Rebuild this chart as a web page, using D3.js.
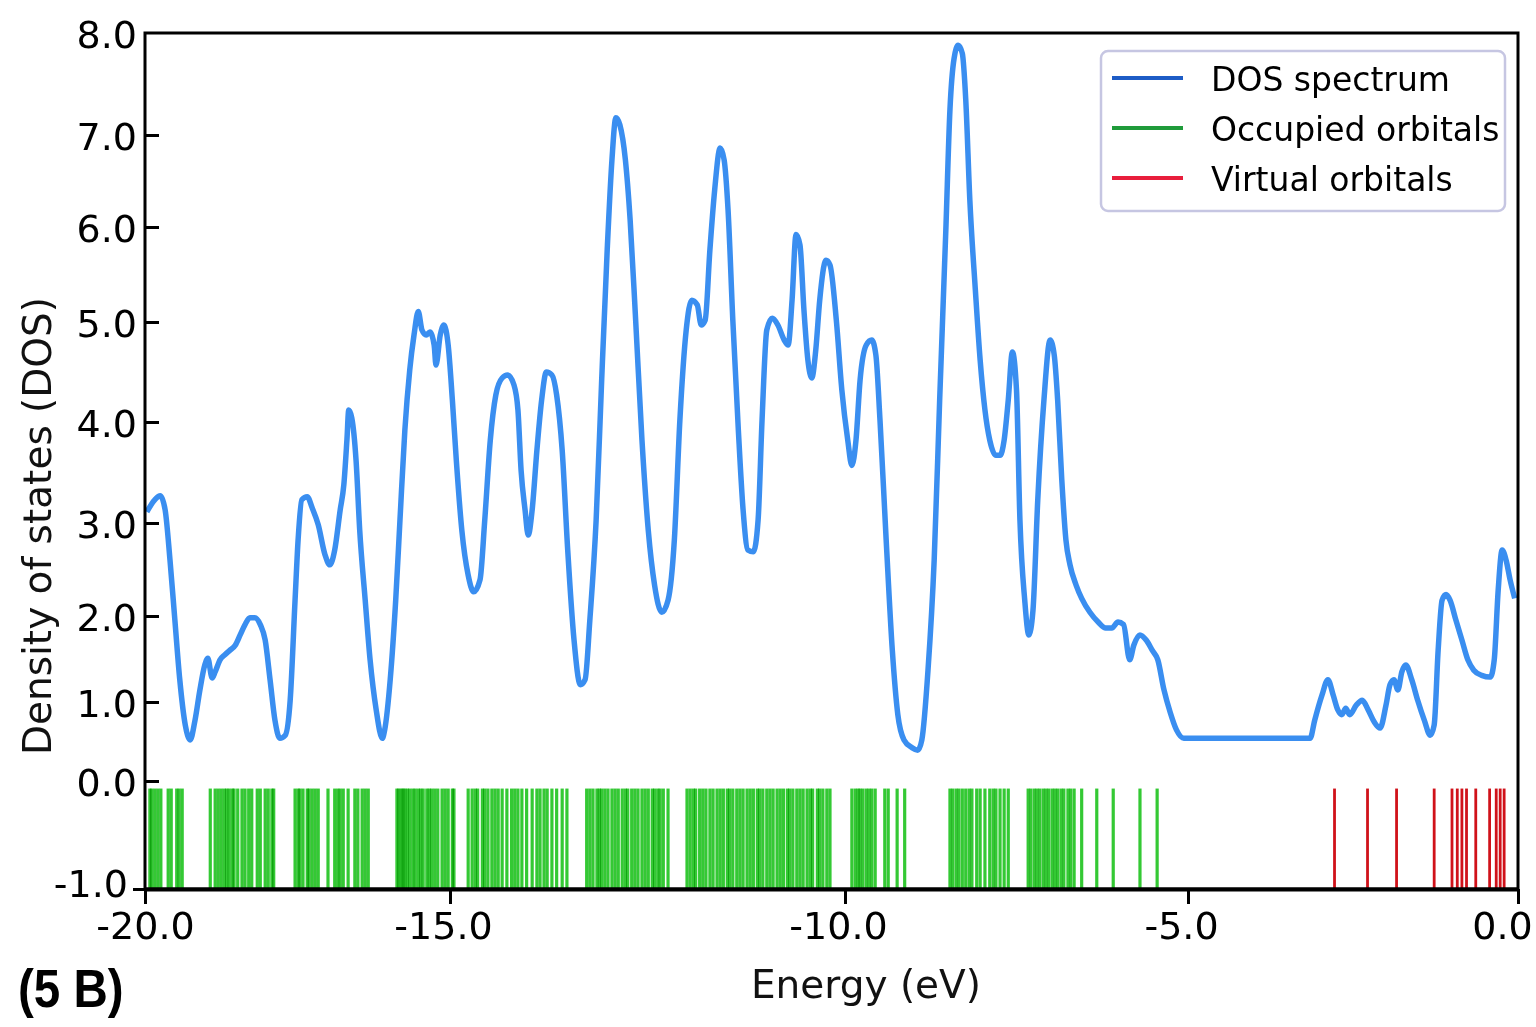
<!DOCTYPE html>
<head>
  <meta charset="utf-8">
  <title>DOS spectrum</title>
  <style>
    body { margin: 0; background: #fff; }
    svg { display: block; }
    .tick text { font-family: "DejaVu Sans", sans-serif; font-size: 38px; fill: #000; }
    .lbl { font-family: "DejaVu Sans", sans-serif; font-size: 39px; fill: #111; }
    .leg { font-family: "DejaVu Sans", sans-serif; font-size: 33px; fill: #000; }
  </style>
</head>
<body>
  <div id="chart"></div>
  <script src="https://cdn.jsdelivr.net/npm/d3@7"></script>
  <script type="text/javascript">

    // tick values
    const energyTicks = [-20, -15, -10, -5, 0];
    const dosTicks = [-1, 0, 1, 2, 3, 4, 5, 6, 7, 8];

    // DOS curve: energy (eV) and density
    const dosEnergy = [
      -19.97, -19.84, -19.75, -19.67, -19.59, -19.51, -19.43, -19.34, -19.26, -19.18,
      -19.10, -19.02, -18.97, -18.90, -18.85, -18.77, -18.69, -18.61, -18.52, -18.44,
      -18.36, -18.28, -18.20, -18.11, -18.03, -17.95, -17.87, -17.79, -17.70, -17.62,
      -17.54, -17.49, -17.43, -17.34, -17.26, -17.16, -17.05, -16.97, -16.89, -16.80,
      -16.74, -16.69, -16.66, -16.61, -16.54, -16.48, -16.39, -16.31, -16.21, -16.11,
      -16.07, -15.98, -15.89, -15.82, -15.74, -15.66, -15.59, -15.52, -15.46, -15.39,
      -15.33, -15.26, -15.23, -15.16, -15.10, -15.03, -14.97, -14.92, -14.85, -14.77,
      -14.70, -14.62, -14.56, -14.49, -14.42, -14.34, -14.27, -14.19, -14.14, -14.10,
      -14.05, -14.01, -13.96, -13.90, -13.84, -13.78, -13.71, -13.65, -13.58, -13.51,
      -13.43, -13.35, -13.29, -13.23, -13.15, -13.08, -13.01, -12.95, -12.90, -12.85,
      -12.78, -12.72, -12.65, -12.57, -12.49, -12.41, -12.32, -12.24, -12.16, -12.09,
      -12.01, -11.94, -11.87, -11.82, -11.77, -11.71, -11.65, -11.58, -11.53, -11.48,
      -11.42, -11.35, -11.29, -11.23, -11.16, -11.10, -11.05, -10.99, -10.92, -10.85,
      -10.77, -10.72, -10.67, -10.62, -10.57, -10.52, -10.47, -10.42, -10.37, -10.32,
      -10.24, -10.19, -10.11, -10.04, -9.96, -9.90, -9.84, -9.78, -9.69, -9.61,
      -9.55, -9.49, -9.40, -9.31, -9.23, -9.14, -9.02, -8.94, -8.88, -8.79,
      -8.70, -8.62, -8.53, -8.47, -8.41, -8.35, -8.29, -8.24, -8.18, -8.10,
      -8.03, -7.96, -7.89, -7.80, -7.74, -7.68, -7.62, -7.56, -7.50, -7.45,
      -7.38, -7.32, -7.26, -7.19, -7.10, -7.01, -6.95, -6.90, -6.84, -6.78,
      -6.72, -6.63, -6.55, -6.43, -6.31, -6.20, -6.11, -6.02, -5.94, -5.85,
      -5.79, -5.70, -5.61, -5.52, -5.44, -5.35, -5.26, -5.17, -5.06, -3.15,
      -3.08, -2.97, -2.88, -2.80, -2.73, -2.67, -2.61, -2.55, -2.45, -2.36,
      -2.27, -2.18, -2.09, -2.00, -1.94, -1.88, -1.82, -1.76, -1.70, -1.61,
      -1.52, -1.42, -1.33, -1.27, -1.21, -1.15, -1.09, -1.03, -0.94, -0.85,
      -0.76, -0.67, -0.55, -0.42, -0.36, -0.30, -0.24, -0.18, -0.12, -0.05
    ];
    const dosValue = [
      3.11, 3.23, 3.27, 3.13, 2.60, 1.95, 1.26, 0.71, 0.52, 0.77,
      1.14, 1.43, 1.51, 1.28, 1.35, 1.49, 1.55, 1.60, 1.66, 1.78,
      1.90, 1.98, 1.98, 1.90, 1.72, 1.26, 0.77, 0.54, 0.58, 1.02,
      2.17, 2.82, 3.23, 3.26, 3.15, 2.98, 2.66, 2.55, 2.71, 3.13,
      3.38, 3.82, 4.12, 4.04, 3.62, 2.92, 2.17, 1.49, 0.90, 0.54,
      0.65, 1.26, 2.17, 3.03, 3.92, 4.52, 4.87, 5.11, 4.92, 4.87,
      4.90, 4.77, 4.57, 4.87, 4.97, 4.77, 4.22, 3.62, 2.92, 2.44,
      2.26, 2.39, 3.03, 3.82, 4.27, 4.44, 4.47, 4.37, 4.12, 3.52,
      3.13, 2.87, 3.13, 3.72, 4.22, 4.50, 4.47, 4.27, 3.72, 2.71,
      1.72, 1.20, 1.26, 1.95, 3.03, 4.42, 5.76, 6.73, 7.17, 7.10,
      6.73, 6.08, 5.02, 3.82, 2.92, 2.33, 2.04, 2.17, 2.82, 4.02,
      4.92, 5.23, 5.18, 4.97, 5.02, 5.76, 6.40, 6.86, 6.73, 6.18,
      5.02, 3.92, 3.13, 2.71, 2.69, 3.03, 4.02, 4.92, 5.04, 4.97,
      4.82, 4.77, 5.23, 5.92, 5.81, 5.13, 4.62, 4.44, 4.72, 5.23,
      5.65, 5.60, 5.02, 4.32, 3.82, 3.57, 3.82, 4.42, 4.77, 4.82,
      4.67, 4.02, 2.82, 1.60, 0.84, 0.52, 0.42, 0.39, 0.52, 1.37,
      2.60, 4.22, 5.97, 7.25, 7.75, 7.88, 7.80, 7.35, 6.29, 5.34,
      4.62, 4.12, 3.82, 3.67, 3.67, 3.82, 4.22, 4.70, 4.32, 3.03,
      2.17, 1.78, 2.06, 3.23, 4.22, 4.82, 4.67, 4.22, 3.43, 2.82,
      2.55, 2.33, 2.19, 2.04, 1.93, 1.86, 1.86, 1.93, 1.90, 1.49,
      1.66, 1.78, 1.72, 1.60, 1.49, 1.14, 0.87, 0.65, 0.54, 0.54,
      0.77, 1.08, 1.26, 1.08, 0.90, 0.84, 0.92, 0.84, 0.96, 1.02,
      0.90, 0.75, 0.67, 0.96, 1.20, 1.26, 1.14, 1.35, 1.43, 1.26,
      1.02, 0.77, 0.58, 0.71, 1.60, 2.17, 2.23, 2.17, 1.95, 1.72,
      1.49, 1.37, 1.31, 1.29, 1.49, 2.28, 2.71, 2.60, 2.39, 2.19
    ];

    // orbital energies (eV)
    const occupied = [
      -19.92, -19.89, -19.84, -19.79, -19.74, -19.62, -19.57, -19.48, -19.44, -19.39,
      -18.93, -18.85, -18.80, -18.75, -18.70, -18.66, -18.62, -18.57, -18.54, -18.48,
      -18.41, -18.36, -18.30, -18.25, -18.16, -18.11, -18.03, -17.98, -17.92, -17.89,
      -17.54, -17.49, -17.46, -17.41, -17.34, -17.31, -17.26, -17.21, -17.16, -17.00,
      -16.89, -16.84, -16.80, -16.75, -16.67, -16.56, -16.51, -16.44, -16.39, -16.34,
      -15.87, -15.84, -15.80, -15.77, -15.74, -15.70, -15.66, -15.61, -15.57, -15.52,
      -15.48, -15.44, -15.38, -15.34, -15.30, -15.25, -15.20, -15.13, -15.08, -15.03,
      -14.97, -14.95, -14.77, -14.72, -14.68, -14.65, -14.59, -14.56, -14.52, -14.47,
      -14.43, -14.39, -14.34, -14.28, -14.22, -14.18, -14.14, -14.09, -14.03, -13.96,
      -13.90, -13.86, -13.81, -13.77, -13.71, -13.65, -13.58, -13.52,
      -13.27, -13.23, -13.19, -13.14, -13.11, -13.08, -13.04, -13.00, -12.95, -12.91,
      -12.87, -12.82, -12.78, -12.75, -12.70, -12.66, -12.62, -12.57, -12.53, -12.49,
      -12.44, -12.41, -12.37, -12.34, -12.30, -12.24,
      -12.00, -11.96, -11.92, -11.89, -11.84, -11.80, -11.76, -11.71, -11.67, -11.62,
      -11.58, -11.54, -11.49, -11.46, -11.42, -11.37, -11.33, -11.29, -11.24, -11.20,
      -11.16, -11.11, -11.08, -11.04, -10.99, -10.95, -10.91, -10.86, -10.82, -10.78,
      -10.73, -10.70, -10.66, -10.61, -10.57, -10.53, -10.48, -10.44, -10.41, -10.35,
      -10.32, -10.28, -10.23, -10.19,
      -9.90, -9.85, -9.81, -9.78, -9.74, -9.69, -9.65, -9.61, -9.56, -9.42,
      -9.37, -9.24, -9.13,
      -8.47, -8.43, -8.38, -8.34, -8.29, -8.24, -8.19, -8.15, -8.08, -8.03,
      -7.96, -7.89, -7.84, -7.80, -7.74, -7.68, -7.62,
      -7.33, -7.29, -7.24, -7.20, -7.16, -7.11, -7.07, -7.03, -6.98, -6.94,
      -6.90, -6.85, -6.81, -6.75, -6.71, -6.66, -6.55, -6.33, -6.09, -5.70, -5.45
    ];
    const virtual = [
      -2.78, -2.28, -1.84, -1.27, -1.00, -0.92, -0.85, -0.78, -0.64, -0.43,
      -0.33, -0.27, -0.21
    ];

    const legendLabels = ["DOS spectrum", "Occupied orbitals", "Virtual orbitals"];
    const legendColors = ["#1d5cc6", "#1f9b3a", "#e81e3c"];

    ////////////////////////////////////////////////////////////////////////////
    const width = 1536, height = 1027;

    const svg = d3.select("#chart").append("svg")
        .attr("width", width)
        .attr("height", height);

    // the axis in the picture is not evenly spaced, so the scales are piecewise
    const x = d3.scaleLinear()
        .domain(energyTicks)
        .range([145, 450, 845, 1188, 1518]);

    const y = d3.scaleLinear()
        .domain(dosTicks)
        .range([889, 781, 702, 616, 523, 422, 322, 227, 135, 33]);

    const fmt = d => d.toFixed(1);

    // orbital sticks
    const stickTop = y(-0.07), stickBottom = y(-1);

    svg.append("g")
        .selectAll("line")
        .data(occupied)
        .join("line")
            .attr("x1", d => x(d)).attr("x2", d => x(d))
            .attr("y1", stickTop).attr("y2", stickBottom)
            .attr("stroke", "#34c934")
            .attr("stroke-width", 3.2)
            .style("mix-blend-mode", "multiply");

    svg.append("g")
        .selectAll("line")
        .data(virtual)
        .join("line")
            .attr("x1", d => x(d)).attr("x2", d => x(d))
            .attr("y1", stickTop).attr("y2", stickBottom)
            .attr("stroke", "#d0121a")
            .attr("stroke-width", 2.8);

    // DOS curve
    const pts = dosEnergy.map((e, i) => [e, dosValue[i]]);
    const line = d3.line()
        .x(d => x(d[0]))
        .y(d => y(d[1]))
        .curve(d3.curveMonotoneX);

    svg.append("path")
        .datum(pts)
        .attr("d", line)
        .attr("fill", "none")
        .attr("stroke", "#3a8ef0")
        .attr("stroke-width", 5.5)
        .attr("stroke-linejoin", "round");

    // frame
    svg.append("rect")
        .attr("x", x(-20)).attr("y", y(8))
        .attr("width", x(0) - x(-20)).attr("height", y(-1) - y(8))
        .attr("fill", "none")
        .attr("stroke", "#000")
        .attr("stroke-width", 3);

    // y axis: ticks inside, labels left
    const gy = svg.append("g")
        .attr("transform", "translate(" + x(-20) + ",0)")
        .call(d3.axisLeft(y).tickValues(dosTicks).tickFormat(fmt)
            .tickSizeInner(-14).tickSizeOuter(0).tickPadding(8));
    gy.select(".domain").remove();
    gy.selectAll(".tick line").attr("stroke", "#000").attr("stroke-width", 3)
        .attr("x2", d => d === -1 ? -12 : (d === 8 ? 0 : 14));
    gy.selectAll(".tick text").attr("dy", d => d === -1 ? "0.2em" : "0.38em")
        .attr("dx", d => d === -1 ? -9 : 0);

    // x axis
    const gx = svg.append("g")
        .attr("transform", "translate(0," + y(-1) + ")")
        .call(d3.axisBottom(x).tickValues(energyTicks).tickFormat(fmt)
            .tickSizeInner(15).tickSizeOuter(0).tickPadding(8));
    gx.select(".domain").attr("stroke", "#000").attr("stroke-width", 4);
    gx.selectAll(".tick line").attr("stroke", "#000").attr("stroke-width", 3);
    gx.selectAll(".tick text")
        .attr("dx", d => d === -20 ? 0 : (d === 0 ? -16 : -7));

    // axis titles
    svg.append("text")
        .attr("class", "lbl")
        .attr("x", 866).attr("y", 998)
        .attr("text-anchor", "middle")
        .text("Energy (eV)");

    svg.append("text")
        .attr("class", "lbl")
        .attr("transform", "translate(51,526) rotate(-90)")
        .attr("text-anchor", "middle")
        .text("Density of states (DOS)");

    svg.append("text")
        .attr("transform", "translate(18,1007) scale(0.88,1)")
        .style("font-family", "'Liberation Sans Narrow', 'Liberation Sans', sans-serif")
        .style("font-weight", "bold")
        .style("font-size", "54px")
        .text("(5 B)");

    // legend
    const leg = svg.append("g");
    leg.append("rect")
        .attr("x", 1101).attr("y", 51)
        .attr("width", 404).attr("height", 160)
        .attr("rx", 7)
        .attr("fill", "#fff")
        .attr("stroke", "#c6c6e2")
        .attr("stroke-width", 2.5);

    const items = leg.selectAll("g.item")
        .data(legendLabels)
        .join("g")
            .attr("class", "item")
            .attr("transform", (d, i) => "translate(1112," + (78 + i * 50) + ")");
    items.append("line")
        .attr("x1", 0).attr("x2", 71)
        .attr("stroke", (d, i) => legendColors[i])
        .attr("stroke-width", 4);
    items.append("text")
        .attr("class", "leg")
        .attr("x", 99).attr("y", 13)
        .text(d => d);

  </script>
</body>
